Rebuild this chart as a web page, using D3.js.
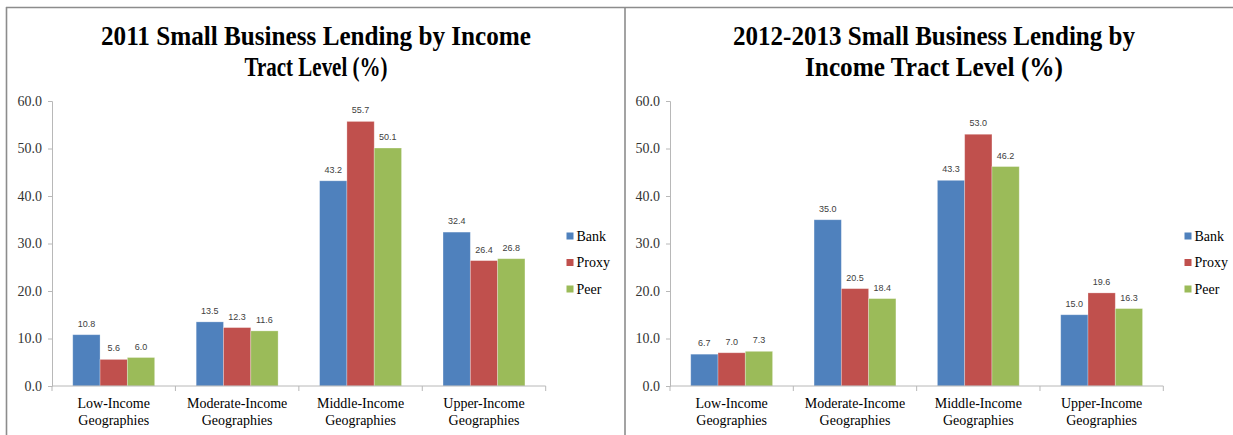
<!DOCTYPE html>
<html>
<head>
<meta charset="utf-8">
<script src="https://cdn.jsdelivr.net/npm/d3@7"></script>
<style>
  html, body { margin: 0; padding: 0; background: #fff; }
  svg { display: block; }
  .serif { font-family: "Liberation Serif", "Times New Roman", Times, serif; }
  .narrow { font-family: "Liberation Sans Narrow", "Arial Narrow", "Liberation Sans", Arial, sans-serif; }
</style>
</head>
<body>
<svg id="chart" width="1233" height="435"></svg>
<script>
// ---- data ----
const categories = ["Low-Income|Geographies", "Moderate-Income|Geographies", "Middle-Income|Geographies", "Upper-Income|Geographies"];
const seriesNames = ["Bank", "Proxy", "Peer"];
const seriesColors = ["#4F81BD", "#C0504D", "#9BBB59"];
const yTicks = [0, 10, 20, 30, 40, 50, 60];

const title2011 = ["2011 Small Business Lending by Income", "Tract Level (%)"];
const bank2011  = [10.8, 13.5, 43.2, 32.4];
const proxy2011 = [5.6, 12.3, 55.7, 26.4];
const peer2011  = [6.0, 11.6, 50.1, 26.8];

const title2013 = ["2012-2013 Small Business Lending by", "Income Tract Level (%)"];
const bank2013  = [6.7, 35.0, 43.3, 15.0];
const proxy2013 = [7.0, 20.5, 53.0, 19.6];
const peer2013  = [7.3, 18.4, 46.2, 16.3];

const svg = d3.select("#chart");

// panel frames
const frame = svg.append("g").attr("stroke", "#8c8c8c").attr("stroke-width", 1.6).attr("fill", "none");
frame.append("line").attr("x1", 6).attr("x2", 1233).attr("y1", 7.5).attr("y2", 7.5);
frame.append("line").attr("x1", 6.5).attr("x2", 6.5).attr("y1", 7).attr("y2", 435);
frame.append("line").attr("x1", 625).attr("x2", 625).attr("y1", 7).attr("y2", 435);

function drawPanel(cfg) {
  const g = svg.append("g");
  const values = [cfg.bank, cfg.proxy, cfg.peer];

  // title
  const tl = [cfg.tw1, cfg.tw2];
  cfg.title.forEach((t, i) => {
    g.append("text").attr("class", "serif")
      .attr("x", cfg.tcx).attr("y", i === 0 ? 45 : 76)
      .attr("text-anchor", "middle")
      .style("font-weight", "bold")
      .style("font-size", "27px").attr("fill", "#000")
      .attr("textLength", tl[i]).attr("lengthAdjust", "spacingAndGlyphs")
      .text(t);
  });

  const y = d3.scaleLinear().domain([0, 60]).range([386, 101]);
  const x0 = d3.scaleBand().domain(categories).range([cfg.ax0, cfg.ax1]).padding(0);
  const x1 = d3.scaleBand().domain(seriesNames).range([0, x0.bandwidth()]).paddingInner(0).paddingOuter(0.76);

  // y axis
  const yAxis = d3.axisLeft(y).tickValues(yTicks).tickFormat(d3.format(".1f")).tickSize(4).tickPadding(6);
  const ya = g.append("g").attr("transform", `translate(${cfg.ax0},0)`).call(yAxis);
  ya.attr("font-family", null).attr("font-size", null);
  ya.select(".domain").attr("stroke", "#b8b8b8");
  ya.selectAll(".tick line").attr("stroke", "#b8b8b8");
  ya.selectAll(".tick text").attr("class", "serif").style("font-size", "14px").attr("fill", "#333");

  // bars
  seriesNames.forEach((s, si) => {
    g.append("g").selectAll("rect").data(values[si]).join("rect")
      .attr("x", (d, i) => x0(categories[i]) + x1(s))
      .attr("y", d => y(d))
      .attr("width", x1.bandwidth())
      .attr("height", d => y(0) - y(d))
      .attr("fill", seriesColors[si])
      .attr("stroke", "rgba(255,255,255,0.35)").attr("stroke-width", 0.8);
    g.append("g").selectAll("text").data(values[si]).join("text").attr("class", "narrow")
      .attr("x", (d, i) => x0(categories[i]) + x1(s) + x1.bandwidth() / 2)
      .attr("y", d => y(d) - 8)
      .attr("text-anchor", "middle")
      .style("font-size", "9px").attr("fill", "#404040")
      .text(d => d.toFixed(1));
  });

  // x axis
  const xa = g.append("g").attr("transform", `translate(0,${y(0)})`);
  xa.append("line").attr("x1", cfg.ax0).attr("x2", cfg.ax1).attr("stroke", "#b8b8b8");
  const bounds = categories.map(c => x0(c)).concat([cfg.ax1]);
  xa.selectAll("line.tk").data(bounds).join("line").attr("class", "tk")
    .attr("x1", d => d).attr("x2", d => d).attr("y1", 0).attr("y2", 5).attr("stroke", "#b8b8b8");
  categories.forEach(c => {
    const parts = c.split("|");
    parts.forEach((p, i) => {
      g.append("text").attr("class", "serif")
        .attr("x", x0(c) + x0.bandwidth() / 2).attr("y", i === 0 ? 408 : 425)
        .attr("text-anchor", "middle")
        .style("font-size", "14px").attr("fill", "#000")
        .text(p);
    });
  });

  // legend
  const lg = g.append("g");
  seriesNames.forEach((s, i) => {
    const ly = 236 + i * 26.5;
    lg.append("rect").attr("x", cfg.lx).attr("y", ly - 3.5).attr("width", 7).attr("height", 7).attr("fill", seriesColors[i]);
    lg.append("text").attr("class", "serif").attr("x", cfg.lx + 10).attr("y", ly + 4.5)
      .style("font-size", "14px").attr("fill", "#000").text(s);
  });
}

drawPanel({ title: title2011, tcx: 316, tw1: 430, tw2: 143, bank: bank2011, proxy: proxy2011, peer: peer2011, ax0: 52, ax1: 545.7, lx: 566.5 });
drawPanel({ title: title2013, tcx: 934, tw1: 402, tw2: 258, bank: bank2013, proxy: proxy2013, peer: peer2013, ax0: 670, ax1: 1163.3, lx: 1184.5 });
</script>
</body>
</html>
